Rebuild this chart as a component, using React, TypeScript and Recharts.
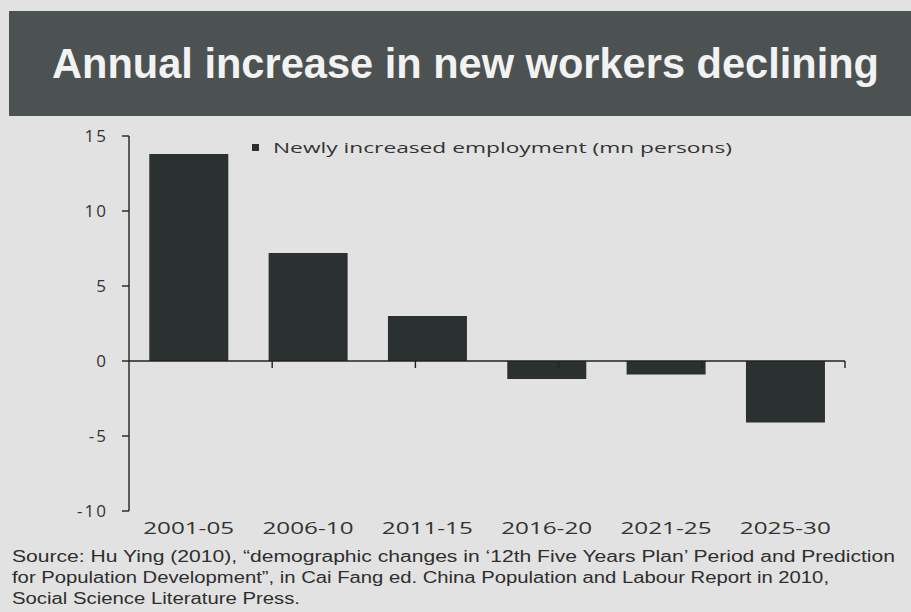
import React from "react";
import { BarChart, Bar, XAxis, YAxis, ReferenceLine } from "recharts";

const titleText = "Annual increase in new workers declining";
const seriesName = "Newly increased employment (mn persons)";
const periods = ["2001-05", "2006-10", "2011-15", "2016-20", "2021-25", "2025-30"];
const employment = [13.8, 7.2, 3.0, -1.2, -0.9, -4.1];
const yTicks = [-10, -5, 0, 5, 10, 15];
const sourceLines = [
  "Source: Hu Ying (2010), \u201cdemographic changes in \u201812th Five Years Plan\u2019 Period and Prediction",
  "for Population Development\u201d, in Cai Fang ed. China Population and Labour Report in 2010,",
  "Social Science Literature Press.",
];
const sourceWidths = [883, 817, 288];

const data = periods.map((p, i) => ({ period: p, value: employment[i] }));
const boundaries = periods.map((_, i) => i + 1);

const TICK_FONT = "'Open Sans', 'DejaVu Sans', sans-serif";

const XTick = (props: any) => {
  const { x, y, payload } = props;
  return (
    <text
      x={x}
      y={y + 15}
      textAnchor="middle"
      fontSize={17}
      fill="#333"
      fontFamily={TICK_FONT}
      textLength={91}
      lengthAdjust="spacingAndGlyphs"
    >
      {payload.value}
    </text>
  );
};

const YTick = (props: any) => {
  const { x, y, payload } = props;
  return (
    <text
      x={x}
      y={y + 6}
      textAnchor="end"
      fontSize={17}
      fill="#333"
      fontFamily={TICK_FONT}
      letterSpacing={2}
    >
      {payload.value}
    </text>
  );
};

export default function App() {
  return (
    <div
      style={{
        position: "absolute",
        left: 0,
        top: 0,
        width: 911,
        height: 612,
        background: "#e2e2e2",
        overflow: "hidden",
      }}
    >
      <div style={{ position: "absolute", left: 0, top: 0 }}>
        <BarChart
          width={911}
          height={560}
          data={data}
          margin={{ top: 136, right: 66, bottom: 0, left: 0 }}
          barCategoryGap="17%"
        >
          <XAxis
            dataKey="period"
            axisLine={false}
            tickLine={false}
            interval={0}
            height={49}
            tick={<XTick />}
          />
          <XAxis xAxisId="num" type="number" domain={[0, 6]} allowDataOverflow hide />
          <YAxis
            width={129}
            domain={[-10, 15]}
            ticks={yTicks}
            interval={0}
            tickSize={7}
            tickMargin={14}
            axisLine={{ stroke: "#222", strokeWidth: 1.4 }}
            tickLine={{ stroke: "#222", strokeWidth: 1.4 }}
            tick={<YTick />}
          />
          <Bar dataKey="value" name={seriesName} fill="#2b3030" isAnimationActive={false} />
          <ReferenceLine y={0} stroke="#222" strokeWidth={1.4} />
          {boundaries.map((b) => (
            <ReferenceLine
              key={b}
              xAxisId="num"
              segment={[
                { x: b, y: 0 },
                { x: b, y: -0.47 },
              ]}
              stroke="#222"
              strokeWidth={1.4}
            />
          ))}
        </BarChart>
      </div>
      <svg
        width={911}
        height={612}
        style={{ position: "absolute", left: 0, top: 0, pointerEvents: "none" }}
      >
        <rect x={9} y={11} width={902} height={105} fill="#4c5151" />
        <text
          x={52}
          y={78}
          fontSize={43}
          fontWeight="bold"
          fill="#f2f2f2"
          fontFamily="'Liberation Sans', Arial, sans-serif"
          textLength={827}
          lengthAdjust="spacingAndGlyphs"
        >
          {titleText}
        </text>
        <rect x={252} y={144} width={7} height={7} fill="#2b3030" />
        <text
          x={273}
          y={153}
          fontSize={15}
          fill="#333"
          fontFamily={TICK_FONT}
          textLength={459}
          lengthAdjust="spacingAndGlyphs"
        >
          {seriesName}
        </text>
        {sourceLines.map((line, i) => (
          <text
            key={i}
            x={12}
            y={562 + i * 21}
            fontSize={16}
            fill="#2e2e2e"
            fontFamily="'Liberation Sans', Arial, sans-serif"
            textLength={sourceWidths[i]}
            lengthAdjust="spacingAndGlyphs"
          >
            {line}
          </text>
        ))}
      </svg>
    </div>
  );
}
